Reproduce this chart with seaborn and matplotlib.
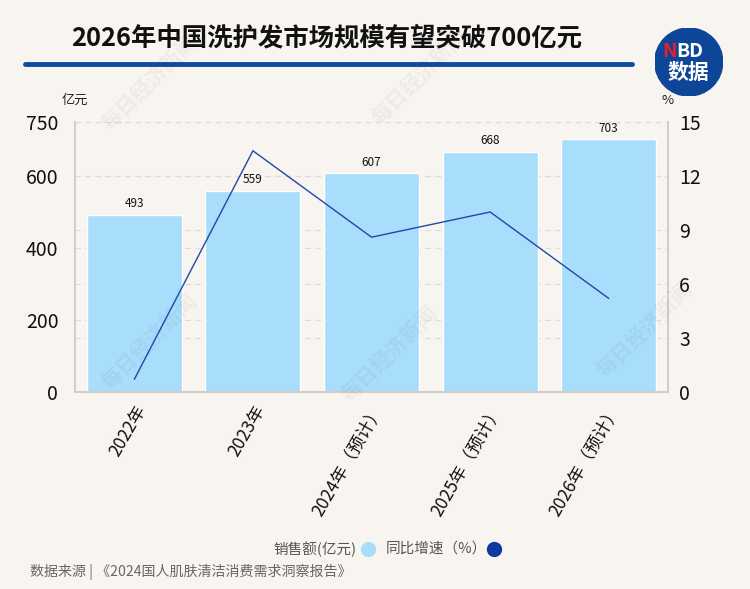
import matplotlib
matplotlib.use('Agg')
import matplotlib.pyplot as plt
import seaborn as sns
import pandas as pd
from matplotlib.patches import Circle
from matplotlib.lines import Line2D

# data
years = ['2022年', '2023年', '2024年（预计）', '2025年（预计）', '2026年（预计）']
sales = [493, 559, 607, 668, 703]
growth = [0.7, 13.4, 8.6, 10.0, 5.2]
left_ticks = [0, 200, 400, 600, 750]
right_ticks = [0, 3, 6, 9, 12, 15]

df = pd.DataFrame({'year': years, 'sales': sales, 'growth': growth})

sns.set_theme(style='ticks')
plt.rcParams['font.family'] = ['Noto Sans CJK SC', 'DejaVu Sans']

bg = '#f8f5f0'
bar_c = '#a8ddfb'
line_c = '#2446a8'
grid_c = '#dedbd6'

fig = plt.figure(figsize=(7.5, 5.89), dpi=100, facecolor=bg)

ax = fig.add_axes([0.1, 0.3345, 0.7907, 0.4584])
ax.set_facecolor('none')
sns.barplot(data=df, x='year', y='sales', color=bar_c, width=0.8,
            saturation=1, ax=ax, zorder=2)
ax.set_ylim(0, 750)
ax.set_xlim(-0.5, 4.5)
ax.set_yticks(left_ticks)
ax.set_xlabel('')
ax.set_ylabel('')
for i, v in enumerate(sales):
    ax.text(i, v + 12, str(v), ha='center', va='bottom', fontsize=8.5, color='#111111', zorder=5)

for t in left_ticks[1:]:
    ax.axhline(t, color=grid_c, lw=0.8, ls=(0, (5, 4)), zorder=1)

ax2 = ax.twinx()
sns.lineplot(x=list(range(len(years))), y=growth, color=line_c, lw=1, ax=ax2, zorder=4)
ax2.set_ylim(0, 15)
ax2.set_yticks(right_ticks)
for t in right_ticks[1:]:
    ax.axhline(t * 50, color=grid_c, lw=0.8, ls=(0, (5, 4)), zorder=1)

for a in (ax, ax2):
    a.spines['top'].set_visible(False)
    for s in ['left', 'right', 'bottom']:
        a.spines[s].set_color('#d0cdc8')
        a.spines[s].set_linewidth(1.2)
    a.tick_params(length=0)
ax.tick_params(axis='y', labelsize=14, pad=12, labelcolor='#111111')
ax2.tick_params(axis='y', labelsize=14, pad=8, labelcolor='#111111')
ax.set_xticks(range(len(years)))
ax.set_xticklabels(years, rotation=60, ha='right', rotation_mode='anchor',
                   fontsize=12.5, color='#111111')
ax.tick_params(axis='x', pad=7)

fig.text(0.1, 0.83, '亿元', fontsize=9.5, ha='center', va='center', color='#222222')
fig.text(0.89, 0.83, '%', fontsize=9.5, ha='center', va='center', color='#222222')

# title
fig.text(0.435, 0.935, '2026年中国洗护发市场规模有望突破700亿元', fontsize=18.3,
         fontweight='bold', ha='center', va='center', color='#111111')
fig.add_artist(Line2D([0.033, 0.843], [0.892, 0.892], color='#0d4ca1', lw=3.5,
                      transform=fig.transFigure))

# logo
lax = fig.add_axes([0.873, 0.837, 0.0907, 0.1155])
lax.set_xlim(-1, 1)
lax.set_ylim(-1, 1)
lax.axis('off')
lax.add_patch(Circle((0, 0), 1, color='#0d4598'))
lax.text(-0.36, 0.30, 'N', color='#e8202a', fontsize=14, fontweight='bold',
         ha='right', va='center')
lax.text(-0.36, 0.30, 'BD', color='white', fontsize=14, fontweight='bold',
         ha='left', va='center')
lax.text(0, -0.32, '数据', color='white', fontsize=15, fontweight='bold',
         ha='center', va='center')

# watermarks (faint)
for (wx, wy) in [(0.20, 0.86), (0.56, 0.87), (0.20, 0.42), (0.52, 0.40), (0.86, 0.44)]:
    fig.text(wx, wy, '每日经济新闻', rotation=45, fontsize=15, color='#000000', alpha=0.045,
             ha='center', va='center', fontweight='bold')

# legend
fig.text(0.475, 0.068, '销售额(亿元)', fontsize=10.5, ha='right', va='center', color='#555555')
fig.add_artist(Line2D([0.491], [0.068], marker='o', ms=10, color=bar_c, lw=0,
                      transform=fig.transFigure))
fig.text(0.514, 0.068, '同比增速（%）', fontsize=10.5, ha='left', va='center', color='#555555')
fig.add_artist(Line2D([0.658], [0.068], marker='o', ms=10, color='#0d3a9e', lw=0,
                      transform=fig.transFigure))

fig.text(0.04, 0.029, '数据来源 | 《2024国人肌肤清洁消费需求洞察报告》', fontsize=10.1,
         ha='left', va='center', color='#666666')

fig.savefig('out.png', dpi=100, facecolor=bg)
